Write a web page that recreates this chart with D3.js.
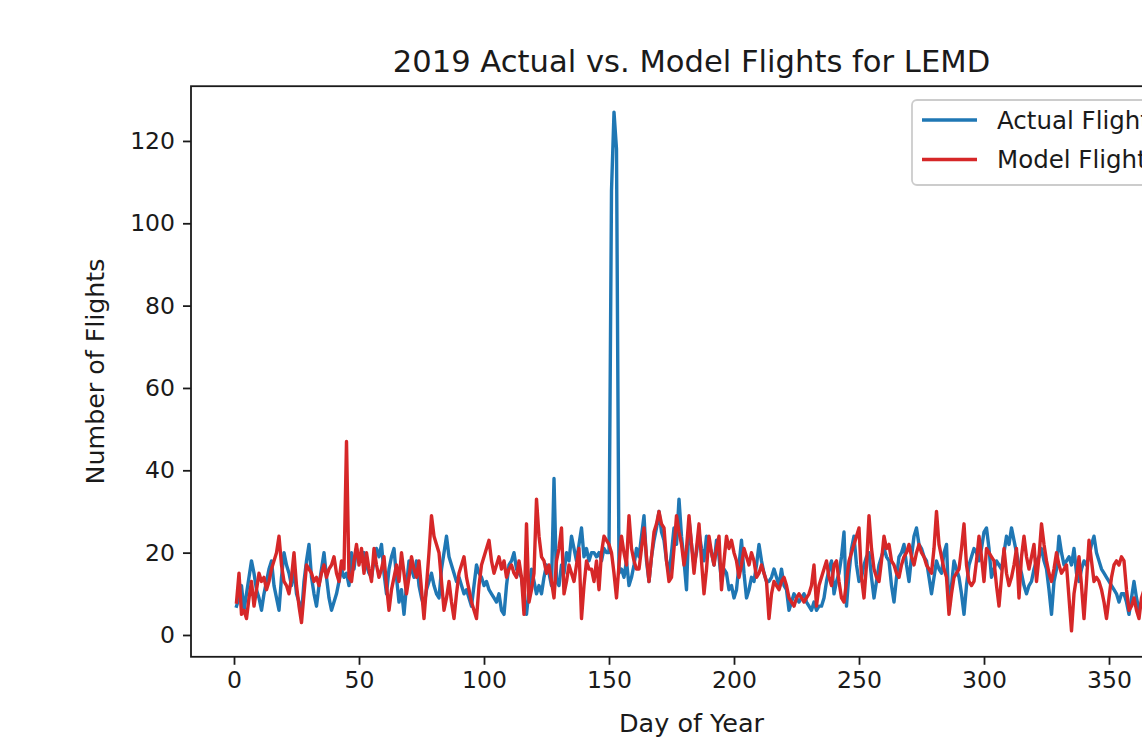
<!DOCTYPE html>
<html>
<head>
<meta charset="utf-8">
<title>2019 Actual vs. Model Flights for LEMD</title>
<script src="https://cdn.jsdelivr.net/npm/d3@7"></script>
<style>
    body { margin: 0; background: #fff; overflow: hidden; }
    svg { display: block; }
    text { font-family: "DejaVu Sans", sans-serif; fill: #1a1a1a; }
</style>
</head>
<body>
<script>
//line chart of daily flights, actual vs model

//day numbers 1..365 are built from the length of the series below
var actualFlights = [
    7, 9, 12, 6, 10, 14, 18, 15, 11, 9,
    6, 10, 13, 16, 18, 12, 9, 6, 14, 20,
    17, 15, 12, 16, 10, 8, 5, 13, 18, 22,
    14, 10, 7, 12, 16, 20, 14, 9, 6, 8,
    10, 13, 16, 14, 15, 12, 20, 16, 21, 18,
    19, 20, 17, 15, 14, 18, 21, 19, 22, 15,
    10, 16, 19, 21, 14, 8, 11, 5, 12, 18,
    16, 14, 18, 12, 9, 7, 11, 13, 15, 12,
    10, 9, 16, 20, 24, 19, 17, 15, 13, 14,
    12, 10, 11, 9, 7, 12, 17, 15, 14, 12,
    13, 11, 10, 9, 8, 10, 6, 5, 12, 17,
    18, 20, 16, 15, 14, 9, 5, 11, 16, 13,
    10, 12, 10, 14, 17, 15, 12, 38, 13, 12,
    17, 15, 20, 18, 24, 21, 18, 22, 26, 19,
    21, 18, 20, 20, 19, 20, 18, 21, 20, 20,
    108, 127, 118, 15, 16, 14, 18, 12, 14, 17,
    21, 19, 24, 29, 18, 13, 19, 23, 26, 30,
    25, 23, 18, 15, 20, 26, 22, 33, 24, 18,
    11, 28, 22, 17, 20, 25, 21, 18, 24, 22,
    20, 17, 23, 19, 13, 16, 15, 11, 12, 9,
    11, 17, 23, 15, 9, 11, 14, 13, 17, 22,
    18, 15, 13, 13, 14, 16, 14, 12, 16, 12,
    11, 6, 8, 10, 9, 8, 9, 10, 8, 7,
    6, 8, 6, 7, 7, 9, 13, 16, 18, 10,
    13, 15, 19, 25, 7, 15, 21, 24, 17, 13,
    14, 17, 19, 20, 14, 9, 13, 17, 19, 21,
    19, 18, 12, 8, 14, 19, 20, 22, 17, 13,
    19, 24, 26, 22, 21, 19, 18, 14, 10, 14,
    18, 16, 15, 20, 22, 6, 12, 18, 16, 14,
    10, 5, 12, 17, 19, 21, 20, 18, 21, 25,
    26, 21, 14, 16, 18, 17, 16, 20, 24, 22,
    26, 23, 20, 17, 15, 12, 10, 12, 13, 16,
    18, 19, 21, 18, 16, 11, 5, 13, 16, 24,
    20, 17, 18, 19, 17, 21, 15, 13, 16, 18,
    17, 19, 22, 24, 20, 18, 16, 15, 14, 13,
    12, 11, 10, 8, 10, 10, 8, 5, 9, 13,
    9, 6, 8, 9, 11
];

var modelFlights = [
    8, 15, 5, 6, 4, 9, 13, 7, 11, 15,
    13, 14, 11, 13, 16, 18, 20, 24, 17, 13,
    12, 10, 14, 20, 12, 7, 3, 10, 17, 16,
    15, 13, 14, 12, 15, 17, 14, 16, 17, 19,
    15, 13, 18, 16, 47, 14, 13, 18, 22, 17,
    21, 15, 20, 16, 13, 21, 17, 14, 16, 19,
    12, 6, 11, 14, 17, 13, 20, 15, 10, 14,
    19, 16, 14, 18, 11, 4, 12, 20, 29, 24,
    22, 20, 13, 6, 9, 13, 8, 4, 10, 15,
    17, 19, 14, 11, 8, 6, 4, 12, 17, 19,
    21, 23, 18, 15, 17, 19, 16, 18, 14, 16,
    17, 15, 14, 18, 14, 5, 27, 8, 11, 15,
    33, 24, 19, 18, 15, 17, 13, 9, 18, 21,
    26, 10, 13, 17, 15, 13, 17, 21, 4, 12,
    18, 16, 16, 13, 18, 11, 20, 24, 23, 22,
    20, 15, 9, 17, 24, 20, 17, 29, 21, 18,
    16, 16, 21, 26, 19, 13, 19, 25, 27, 30,
    27, 26, 18, 13, 14, 21, 29, 25, 22, 17,
    21, 29, 22, 15, 21, 27, 18, 10, 16, 24,
    20, 17, 21, 24, 11, 18, 24, 21, 23, 20,
    18, 14, 17, 21, 19, 17, 20, 18, 14, 15,
    17, 15, 13, 4, 10, 13, 12, 11, 13, 14,
    12, 9, 8, 7, 9, 10, 9, 8, 9, 10,
    12, 17, 7, 12, 14, 16, 18, 14, 12, 17,
    18, 13, 9, 8, 13, 18, 20, 22, 24, 26,
    14, 9, 17, 29, 21, 16, 14, 13, 18, 24,
    21, 22, 18, 17, 15, 14, 17, 19, 20, 22,
    19, 17, 20, 22, 20, 19, 17, 16, 15, 21,
    30, 22, 19, 16, 14, 5, 10, 14, 15, 16,
    21, 27, 17, 13, 12, 13, 18, 24, 19, 13,
    21, 20, 19, 18, 12, 7, 14, 21, 15, 12,
    14, 17, 21, 9, 19, 24, 19, 16, 19, 22,
    13, 19, 27, 22, 18, 15, 13, 16, 20, 17,
    15, 16, 17, 9, 1, 10, 14, 19, 12, 4,
    13, 23, 18, 13, 14, 13, 11, 8, 4, 9,
    14, 17, 18, 17, 19, 18, 11, 6, 7, 9,
    6, 4, 9, 11, 10
];

var seriesNames = ["Actual Flights", "Model Flights"];
var seriesColors = ["#1f77b4", "#d62728"];
var xTicks = [0, 50, 100, 150, 200, 250, 300, 350];
var yTicks = [0, 20, 40, 60, 80, 100, 120];

(function(){

window.onload = setChart();

function setChart(){
    //frame dimensions, the plot runs past the right edge like the source picture
    var width = 1142,
        height = 739;

    var plotLeft = 191,
        plotRight = 1192,
        plotTop = 86.2,
        plotBottom = 656.8;

    var chart = d3.select("body")
        .append("svg")
        .attr("width", width)
        .attr("height", height);

    chart.append("rect")
        .attr("width", width)
        .attr("height", height)
        .attr("fill", "#fff");

    //build rows for each series
    var series = [actualFlights, modelFlights].map(function(vals, s){
        return {
            name: seriesNames[s],
            color: seriesColors[s],
            values: vals.map(function(v, i){ return {day: i + 1, flights: v}; })
        };
    });

    //matplotlib style 5% margins around the data
    var x = d3.scaleLinear()
        .domain([-17.2, 383.2])
        .range([plotLeft, plotRight]);

    var y = d3.scaleLinear()
        .domain([-5.3, 133.3])
        .range([plotBottom, plotTop]);

    chart.append("clipPath")
        .attr("id", "plotClip")
        .append("rect")
        .attr("x", plotLeft)
        .attr("y", plotTop)
        .attr("width", plotRight - plotLeft)
        .attr("height", plotBottom - plotTop);

    var line = d3.line()
        .x(function(d){ return x(d.day); })
        .y(function(d){ return y(d.flights); });

    chart.append("g")
        .attr("clip-path", "url(#plotClip)")
        .selectAll(".series")
        .data(series)
        .enter()
        .append("path")
        .attr("class", "series")
        .attr("d", function(d){ return line(d.values); })
        .attr("fill", "none")
        .attr("stroke", function(d){ return d.color; })
        .attr("stroke-width", 3.4)
        .attr("stroke-linejoin", "round")
        .attr("stroke-linecap", "square");

    setAxes(chart, x, y, plotLeft, plotRight, plotTop, plotBottom);
    setLegend(chart, series);
};

function setAxes(chart, x, y, plotLeft, plotRight, plotTop, plotBottom){
    var xAxis = d3.axisBottom(x)
        .tickValues(xTicks)
        .tickSizeOuter(0)
        .tickSize(8)
        .tickPadding(7);

    var yAxis = d3.axisLeft(y)
        .tickValues(yTicks)
        .tickSizeOuter(0)
        .tickSize(8)
        .tickPadding(8);

    var gx = chart.append("g")
        .attr("transform", "translate(0," + plotBottom + ")")
        .call(xAxis);

    var gy = chart.append("g")
        .attr("transform", "translate(" + plotLeft + ",0)")
        .call(yAxis);

    [gx, gy].forEach(function(g){
        g.select(".domain").remove();
        g.selectAll(".tick line").attr("stroke", "#1a1a1a").attr("stroke-width", 1.8);
        g.selectAll(".tick text")
            .attr("font-family", "DejaVu Sans")
            .attr("font-size", 23.5)
            .attr("fill", "#1a1a1a");
    });

    //frame round the plot
    chart.append("rect")
        .attr("x", plotLeft)
        .attr("y", plotTop)
        .attr("width", plotRight - plotLeft)
        .attr("height", plotBottom - plotTop)
        .attr("fill", "none")
        .attr("stroke", "#1a1a1a")
        .attr("stroke-width", 1.8);

    chart.append("text")
        .attr("x", (plotLeft + plotRight) / 2)
        .attr("y", 72)
        .attr("text-anchor", "middle")
        .attr("font-size", 30.6)
        .text("2019 Actual vs. Model Flights for LEMD");

    chart.append("text")
        .attr("x", (plotLeft + plotRight) / 2)
        .attr("y", 732)
        .attr("text-anchor", "middle")
        .attr("font-size", 25.5)
        .text("Day of Year");

    chart.append("text")
        .attr("transform", "translate(104," + (plotTop + plotBottom) / 2 + ") rotate(-90)")
        .attr("text-anchor", "middle")
        .attr("font-size", 25.3)
        .text("Number of Flights");
};

function setLegend(chart, series){
    //the source picture is cut at the right edge, so is this legend
    var legend = chart.append("g")
        .attr("transform", "translate(912,100)");

    legend.append("rect")
        .attr("width", 300)
        .attr("height", 85)
        .attr("rx", 5)
        .attr("fill", "#fff")
        .attr("fill-opacity", 0.8)
        .attr("stroke", "#cccccc")
        .attr("stroke-width", 1.8);

    var items = legend.selectAll(".item")
        .data(series)
        .enter()
        .append("g")
        .attr("class", "item")
        .attr("transform", function(d, i){ return "translate(0," + (20 + i * 39.5) + ")"; });

    items.append("line")
        .attr("x1", 10)
        .attr("x2", 65)
        .attr("stroke", function(d){ return d.color; })
        .attr("stroke-width", 3.4);

    items.append("text")
        .attr("x", 85)
        .attr("dy", "0.35em")
        .attr("font-size", 24.5)
        .text(function(d){ return d.name; });
};

})();
</script>
</body>
</html>
